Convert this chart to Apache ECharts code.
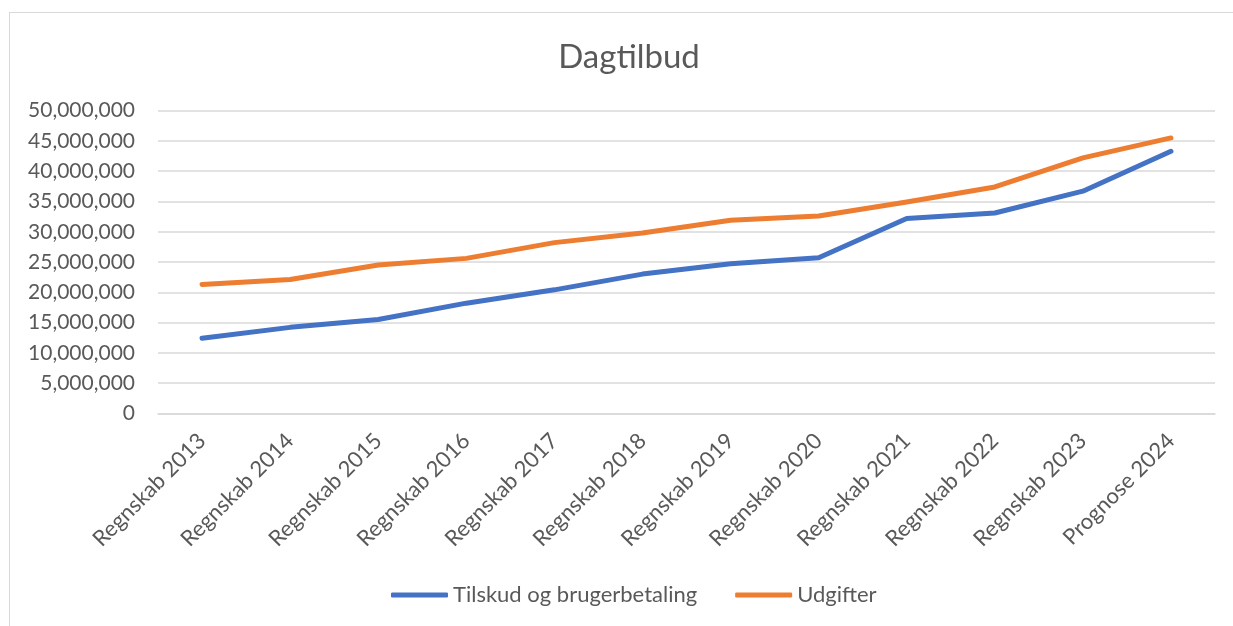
<!DOCTYPE html>
<html>
<head>
<meta charset="utf-8">
<script src="https://cdn.jsdelivr.net/npm/echarts@6/dist/echarts.min.js"></script>
<style>
  html, body { margin: 0; padding: 0; background: #fff; }
  #frame { position: absolute; left: 9px; top: 12px; width: 1300px; height: 700px; border: 1px solid #d9d9d9; }
  #chart { position: absolute; left: 0; top: 0; width: 1233px; height: 626px; }
</style>
</head>
<body>
<div id="frame"></div>
<div id="chart"></div>
<script>
  // data
  const categories = ['Regnskab 2013', 'Regnskab 2014', 'Regnskab 2015', 'Regnskab 2016',
    'Regnskab 2017', 'Regnskab 2018', 'Regnskab 2019', 'Regnskab 2020', 'Regnskab 2021',
    'Regnskab 2022', 'Regnskab 2023', 'Prognose 2024'];
  const tilskud = [12400000, 14200000, 15500000, 18200000, 20400000, 23000000,
    24700000, 25700000, 32200000, 33100000, 36700000, 43300000];
  const udgifter = [21300000, 22100000, 24500000, 25600000, 28200000, 29800000,
    31900000, 32600000, 34900000, 37400000, 42200000, 45500000];
  const seriesNames = ['Tilskud og brugerbetaling', 'Udgifter'];

  const font = 'Lato, "Open Sans", sans-serif';
  const textColor = '#595959';

  const myChart = echarts.init(document.getElementById('chart'));
  const option = {
    backgroundColor: 'transparent',
    color: ['#4472C4', '#ED7D31'],
    title: {
      text: 'Dagtilbud',
      left: 624,
      textAlign: 'center',
      top: 36,
      textStyle: { fontFamily: font, fontSize: 33, fontWeight: 'normal', color: textColor },
    },
    grid: {
      left: 158,
      right: 18,
      top: 110.7,
      bottom: 212.7,
    },
    legend: {
      top: 579,
      left: 386,
      icon: 'roundRect',
      itemWidth: 57,
      itemHeight: 5,
      itemGap: 38,
      textStyle: { fontFamily: font, fontSize: 22, color: textColor },
      data: seriesNames,
    },
    xAxis: {
      type: 'category',
      data: categories,
      boundaryGap: true,
      axisLine: { show: true, lineStyle: { color: '#d9d9d9', width: 1.5 } },
      axisTick: { show: false },
      axisLabel: {
        rotate: 45,
        interval: 0,
        margin: 24,
        fontFamily: font,
        fontSize: 22,
        color: textColor,
      },
    },
    yAxis: {
      type: 'value',
      min: 0,
      max: 50000000,
      interval: 5000000,
      axisLine: { show: false },
      axisTick: { show: false },
      splitLine: { lineStyle: { color: '#d9d9d9', width: 1.5 } },
      axisLabel: {
        margin: 23,
        fontFamily: font,
        fontSize: 21,
        color: textColor,
        formatter: (v) => v.toLocaleString('en-US'),
      },
    },
    series: [
      {
        name: seriesNames[0],
        type: 'line',
        data: tilskud,
        showSymbol: false,
        symbol: 'none',
        lineStyle: { width: 5, cap: 'round', join: 'round' },
      },
      {
        name: seriesNames[1],
        type: 'line',
        data: udgifter,
        showSymbol: false,
        symbol: 'none',
        lineStyle: { width: 5, cap: 'round', join: 'round' },
      },
    ],
  };
  myChart.setOption(option);
</script>
</body>
</html>
